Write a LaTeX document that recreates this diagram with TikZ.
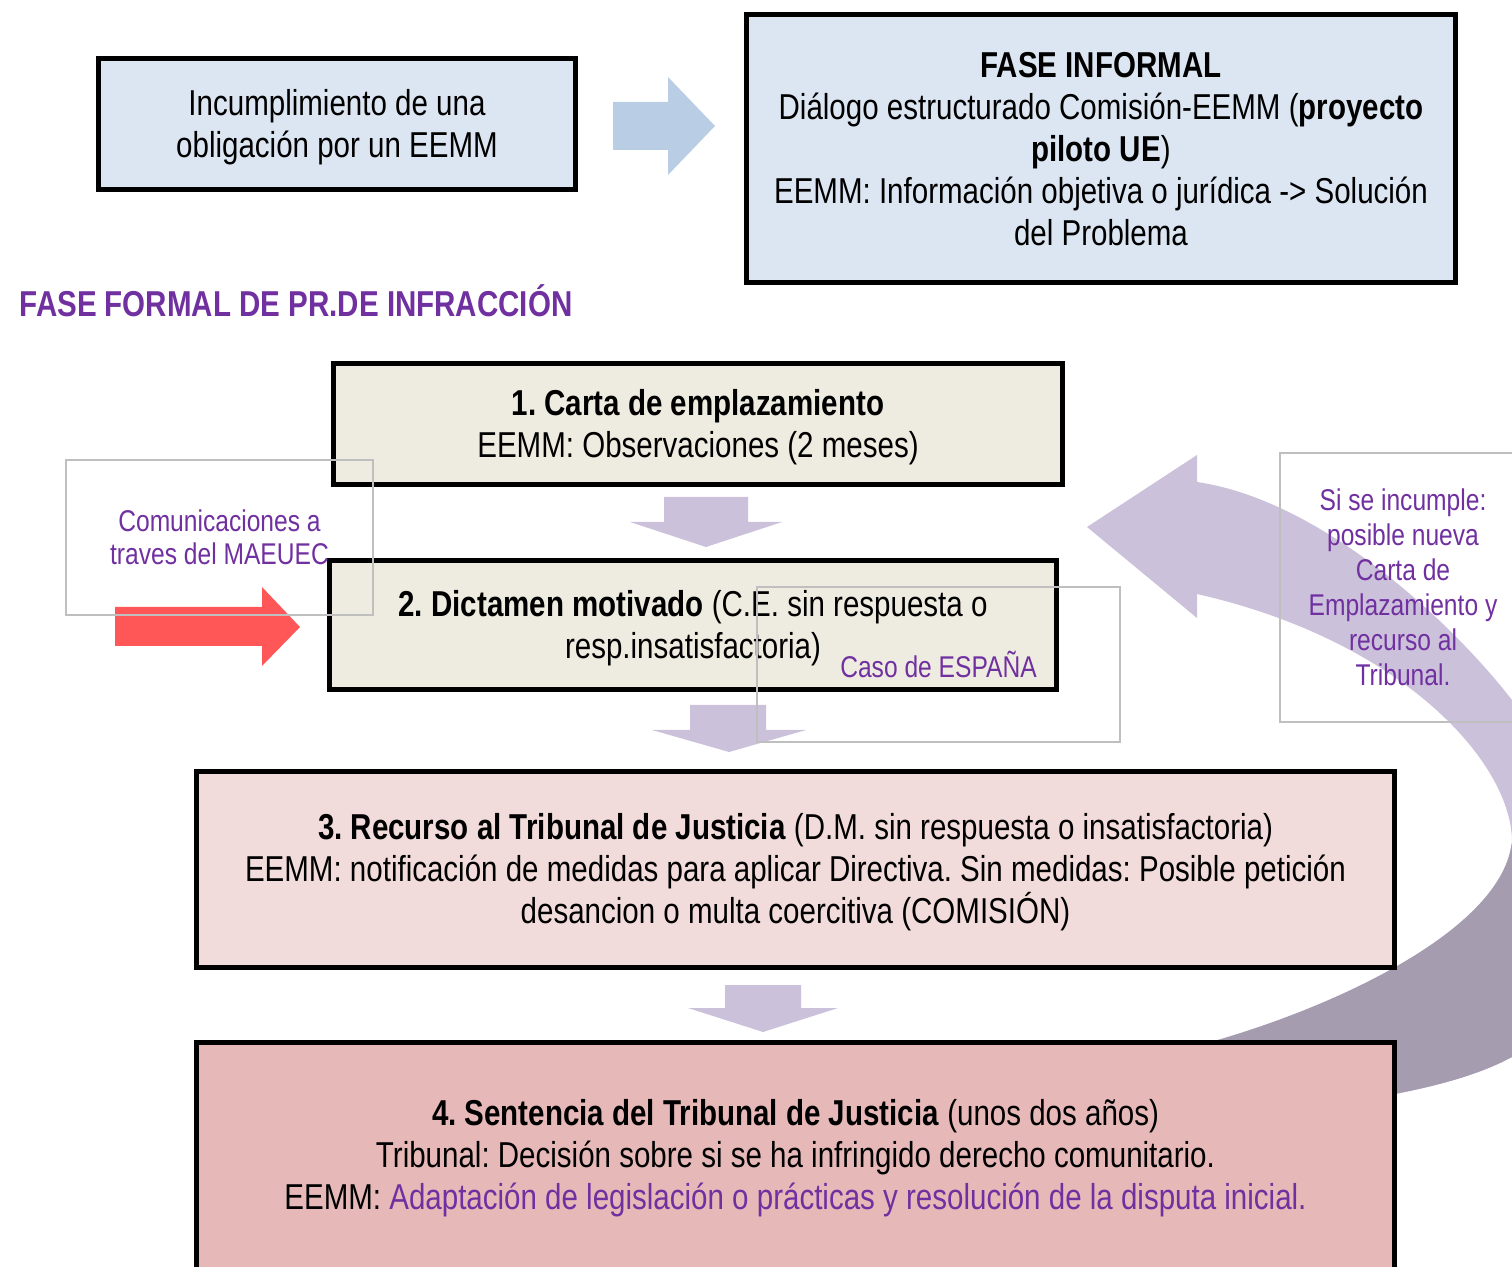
\documentclass[tikz,border=0pt]{standalone}
\usepackage{fontspec}
\setmainfont{Liberation Sans}[FakeStretch=0.82]
\definecolor{boxblue}{HTML}{DCE6F2}
\definecolor{arrblue}{HTML}{B9CDE5}
\definecolor{beige}{HTML}{EEECE1}
\definecolor{pinkA}{HTML}{F2DCDB}
\definecolor{pinkB}{HTML}{E6B9B8}
\definecolor{lav}{HTML}{CCC1DA}
\definecolor{lavdark}{HTML}{A59CB0}
\definecolor{purp}{HTML}{7030A0}
\definecolor{redarr}{HTML}{FF5757}
\definecolor{tbgray}{HTML}{BFBFBF}
\frenchspacing
\begin{document}
\begin{tikzpicture}[x=0.5pt,y=-0.5pt,
  mainbox/.style={draw=black,line width=2.5pt,inner sep=0pt},
  bigtext/.style={align=center,inner sep=0pt,font=\fontsize{18}{21}\selectfont},
  tbox/.style={draw=tbgray,line width=1pt,align=center,inner sep=0pt,text=purp,
    font=\fontsize{15}{16.5}\selectfont},
  blockarr/.style={fill=lav,draw=none}]
\useasboundingbox (0,0) rectangle (1512,1267);
\clip (0,0) rectangle (1512,1267);

% curved return arrow
\def\bandpath{(1087,527) -- (1197,455) -- (1197,482)
  .. controls (1320,500) and (1450,620) .. (1512,700)
  .. controls (1560,790) and (1580,1020) .. (1512,1057)
  .. controls (1460,1085) and (1380,1100) .. (1250,1115)
  -- (1180,1050) -- (1200,1045)
  .. controls (1330,1010) and (1505,930) .. (1512,840)
  .. controls (1510,760) and (1400,640) .. (1197,594)
  -- (1197,618) -- cycle}
\fill[lav] \bandpath;
\begin{scope}
  \clip (1000,845) rectangle (1700,1300);
  \fill[lavdark] \bandpath;
\end{scope}

% top row
\node[mainbox,fill=boxblue,minimum width=238.5pt,minimum height=65.5pt] (a) at (337,124) {};
\node[bigtext] (at) at ([yshift=-1.5pt]a.center) {Incumplimiento de una\\obligación por un EEMM};
\fill[arrblue] (613,102) -- (668,102) -- (668,77) -- (715,126) -- (668,175) -- (668,150) -- (613,150) -- cycle;
\node[mainbox,fill=boxblue,minimum width=354.5pt,minimum height=134pt] (inf) at (1101,148.5) {};
\node[bigtext] (inft) at ([yshift=-0.5pt]inf.center)
  {\textbf{FASE INFORMAL}\\
   Diálogo estructurado Comisión-EEMM (\textbf{proyecto}\\
   \textbf{piloto UE})\\
   EEMM: Información objetiva o jurídica -> Solución\\
   del Problema};

\node[bigtext,text=purp,font=\fontsize{18}{21}\selectfont\bfseries] (title) at (296,301)
  {FASE FORMAL DE PR.DE INFRACCIÓN};

% formal steps
\node[mainbox,fill=beige,minimum width=364.5pt,minimum height=60.5pt] (c1) at (698,424) {};
\node[bigtext] (c1t) at ([yshift=-1.5pt]c1.center)
  {\textbf{1. Carta de emplazamiento}\\EEMM: Observaciones (2 meses)};
\fill[blockarr] (664,497) -- (748,497) -- (748,522) -- (782,522) -- (706,547) -- (630,522) -- (664,522) -- cycle;

\node[mainbox,fill=beige,minimum width=363.5pt,minimum height=64.5pt] (c2) at (693,625) {};
\node[bigtext] (c2t) at ([yshift=-1.5pt]c2.center)
  {\textbf{2. Dictamen motivado} (C.E. sin respuesta o\\resp.insatisfactoria)};
\fill[blockarr] (690,705) -- (766,705) -- (766,730) -- (806,730) -- (729,752) -- (652,730) -- (690,730) -- cycle;

\node[mainbox,fill=pinkA,minimum width=599pt,minimum height=98pt] (c3) at (795.5,869.5) {};
\node[bigtext] (c3t) at ([yshift=-1.5pt]c3.center)
  {\textbf{3. Recurso al Tribunal de Justicia} (D.M. sin respuesta o insatisfactoria)\\
   EEMM: notificación de medidas para aplicar Directiva. Sin medidas: Posible petición\\
   desancion o multa coercitiva (COMISIÓN)};
\fill[blockarr] (725,985) -- (801,985) -- (801,1008) -- (838,1008) -- (763,1032) -- (688,1008) -- (725,1008) -- cycle;

\node[mainbox,fill=pinkB,minimum width=599pt,minimum height=122.5pt] (c4) at (795.5,1165) {};
\node[bigtext] (c4t) at (795.5,1158)
  {\textbf{4. Sentencia del Tribunal de Justicia} (unos dos años)\\
   Tribunal: Decisión sobre si se ha infringido derecho comunitario.\\
   EEMM: \textcolor{purp}{Adaptación de legislación o prácticas y resolución de la disputa inicial.}};

% red arrow
\fill[redarr] (115,607) -- (262,607) -- (262,587) -- (300,627) -- (262,666) -- (262,646) -- (115,646) -- cycle;

% text boxes
\node[tbox,minimum width=153.5pt,minimum height=77.5pt] (com) at (219.5,537.5)
  {Comunicaciones a\\traves del MAEUEC};
\node[tbox,minimum width=181.5pt,minimum height=77.5pt] (caso) at (938.5,664.5)
  {Caso de ESPAÑA};
\node[tbox,minimum width=123pt,minimum height=134.5pt,font=\fontsize{15}{17.5}\selectfont] (sise) at (1403,587.5)
  {Si se incumple:\\posible nueva\\Carta de\\Emplazamiento y\\recurso al\\Tribunal.};
\end{tikzpicture}
\end{document}
